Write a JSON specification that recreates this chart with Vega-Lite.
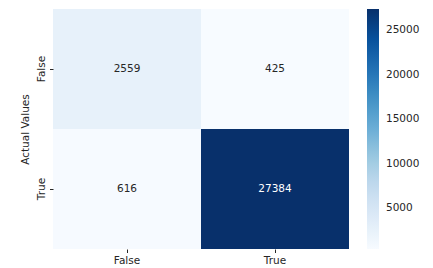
{
  "$schema": "https://vega.github.io/schema/vega-lite/v6.json",
  "autosize": {"type": "none"},
  "padding": {"left": 53, "top": 9, "right": 84, "bottom": 19},
  "width": 296,
  "height": 240,
  "background": "white",
  "config": {
    "view": {"stroke": null},
    "font": "DejaVu Sans",
    "axis": {"labelFont": "DejaVu Sans", "titleFont": "DejaVu Sans", "labelFontSize": 10.5, "titleFontSize": 10.5, "labelColor": "#262626", "titleColor": "#262626", "titleFontWeight": "normal", "domain": false, "tickColor": "#262626", "tickSize": 3.5, "grid": false},
    "legend": {"labelFont": "DejaVu Sans", "labelFontSize": 10.5, "labelColor": "#262626"}
  },
  "data": {"values": [
    {"actual": "False", "predicted": "False", "count": 2559},
    {"actual": "False", "predicted": "True", "count": 425},
    {"actual": "True", "predicted": "False", "count": 616},
    {"actual": "True", "predicted": "True", "count": 27384}
  ]},
  "encoding": {
    "x": {"field": "predicted", "type": "nominal", "sort": ["False", "True"], "scale": {"paddingInner": 0, "paddingOuter": 0},
      "axis": {"title": null, "labelAngle": 0, "labelPadding": 3}},
    "y": {"field": "actual", "type": "nominal", "sort": ["False", "True"], "scale": {"paddingInner": 0, "paddingOuter": 0},
      "axis": {"title": "Actual Values", "labelAngle": -90, "labelAlign": "center", "labelBaseline": "bottom", "labelPadding": 3, "titlePadding": 6}}
  },
  "layer": [
    {
      "mark": {"type": "rect"},
      "encoding": {
        "color": {"field": "count", "type": "quantitative",
          "scale": {"domain": [425, 3794.875, 7164.75, 10534.625, 13904.5, 17274.375, 20644.25, 24014.125, 27384],
            "range": ["#f7fbff", "#deebf7", "#c6dbef", "#9ecae1", "#6baed6", "#4292c6", "#2171b5", "#08519c", "#08306b"], "interpolate": "rgb"},
          "legend": {"title": null, "orient": "right", "direction": "vertical", "gradientLength": 240, "gradientThickness": 12, "offset": 18, "values": [5000, 10000, 15000, 20000, 25000], "format": "d", "labelOffset": 7, "gradientStrokeWidth": 0, "labelOverlap": false}
        }
      }
    },
    {
      "mark": {"type": "text", "fontSize": 10.5, "font": "DejaVu Sans"},
      "encoding": {
        "text": {"field": "count", "type": "quantitative", "format": "d"},
        "color": {"condition": {"test": "datum.count > 15000", "value": "white"}, "value": "#262626"}
      }
    }
  ]
}
